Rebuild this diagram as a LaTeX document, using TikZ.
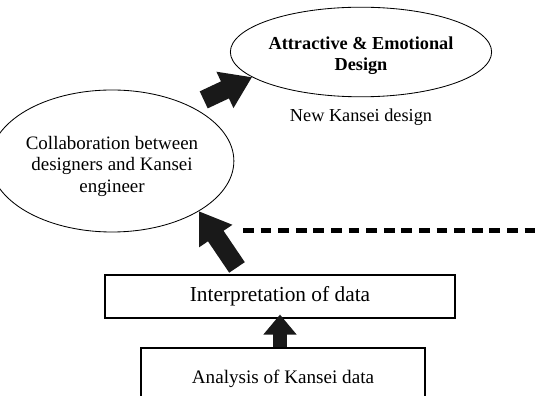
\documentclass[tikz,border=0pt]{standalone}
\usepackage{fontspec}
\setmainfont{Liberation Serif}
\usetikzlibrary{arrows.meta,positioning,shapes.geometric}

\begin{document}
\begin{tikzpicture}[>=Latex,
  txt/.style={font=\fontsize{13.5}{15.3}\selectfont,align=center},
  boxtxt/.style={font=\fontsize{15.2}{17}\selectfont,align=center},
  oval/.style={draw,semithick,ellipse,inner sep=0pt,txt},
  box/.style={draw,thick,rectangle,inner sep=0pt,boxtxt},
  bigarrow/.style={-{Triangle[length=0.75cm,width=0.95cm]},line width=0.47cm,black!90},
  smallarrow/.style={-{Triangle[length=0.5cm,width=0.8cm]},line width=0.35cm,black!90},
  link/.style={line width=0.125cm,dash pattern=on 0.27cm off 0.17cm}]
  \useasboundingbox (0,0) rectangle (13.475,9.9);
  % design stages
  \node[oval,font=\fontsize{13}{15.3}\selectfont\bfseries,minimum width=5.125cm,minimum height=2.24cm] (attract) at (9.025,8.6) {\rule{0pt}{0.5cm}Attractive \& Emotional\\Design};
  \node[txt,font=\fontsize{13}{15.3}\selectfont] (newdesign) at (9.025,6.975) {New Kansei design};
  \node[oval,minimum width=5.0cm,minimum height=3.55cm] (collab) at (2.8,5.875) {\rule{0pt}{0.6cm}Collaboration between\\designers and Kansei\\engineer};
  \node[box,minimum width=8.75cm,minimum height=1.075cm] (interp) at (7.0,2.4875) {Interpretation of data};
  \node[box,font=\fontsize{13.6}{15.3}\selectfont,minimum width=7.1cm,minimum height=1.55cm] (analysis) at (7.075,0.425) {Analysis of Kansei data};
  % block arrows
  \draw[bigarrow,shorten <=0.37cm] (collab.35) -- (attract.193);
  \draw[bigarrow] ([xshift=-1.075cm,yshift=0.175cm]interp.north) -- (collab.-30);
  \draw[smallarrow] (analysis.north -| interp.south) -- ([yshift=0.1cm]interp.south);
  % feedback line
  \coordinate (dashstart) at (6.075,4.125);
  \coordinate (dashend) at (13.6,4.125);
  \draw[link] (dashstart) -- (dashend);
\end{tikzpicture}
\end{document}
